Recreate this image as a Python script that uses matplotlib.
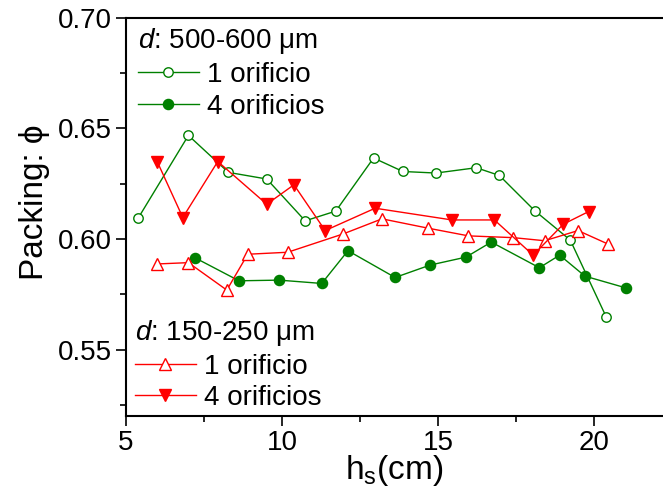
import matplotlib
matplotlib.use("Agg")
import matplotlib.pyplot as plt
from matplotlib.ticker import MultipleLocator

plt.rcParams['font.family'] = ['Liberation Sans', 'DejaVu Sans']
plt.rcParams['mathtext.fontset'] = 'custom'
plt.rcParams['mathtext.rm'] = 'Liberation Sans'
plt.rcParams['mathtext.it'] = 'Liberation Sans:italic'
plt.rcParams['mathtext.default'] = 'regular'

# d: 500-600 um, 1 orifice
h_big_1 = [5.39, 7.00, 8.28, 9.51, 10.74, 11.72, 12.93, 13.87, 14.93, 16.22, 16.96, 18.09, 19.23, 20.38]
phi_big_1 = [0.6094, 0.6468, 0.6301, 0.6271, 0.6082, 0.6126, 0.6366, 0.6305, 0.6298, 0.6322, 0.6287, 0.6128, 0.5995, 0.5648]

# d: 500-600 um, 4 orifices
h_big_4 = [7.21, 8.62, 9.91, 11.27, 12.11, 13.62, 14.74, 15.89, 16.70, 18.24, 18.89, 19.70, 21.01]
phi_big_4 = [0.5915, 0.5811, 0.5814, 0.5799, 0.5947, 0.5826, 0.5882, 0.5918, 0.5986, 0.5870, 0.5927, 0.5832, 0.5779]

# d: 150-250 um, 1 orifice
h_small_1 = [5.98, 7.00, 8.23, 8.90, 10.18, 11.96, 13.20, 14.67, 15.97, 17.41, 18.41, 19.48, 20.44]
phi_small_1 = [0.5887, 0.5893, 0.5769, 0.5931, 0.5940, 0.6023, 0.6091, 0.6049, 0.6014, 0.6006, 0.5992, 0.6038, 0.5977]

# d: 150-250 um, 4 orifices
h_small_4 = [6.00, 6.82, 7.94, 9.51, 10.38, 11.38, 12.98, 15.44, 16.80, 18.04, 19.01, 19.82]
phi_small_4 = [0.6350, 0.6097, 0.6350, 0.6157, 0.6245, 0.6038, 0.6139, 0.6086, 0.6086, 0.5927, 0.6067, 0.6124]

GREEN = '#008000'
RED = '#ff0000'

fig = plt.figure(figsize=(6.63, 4.92), dpi=100)
ax = fig.add_axes([0.190, 0.1545, 0.81, 0.8095])

lg1, = ax.plot(h_big_1, phi_big_1, '-o', color=GREEN, lw=1, ms=6.8,
               mfc='white', mec=GREEN, mew=1, label='1 orificio')
lg4, = ax.plot(h_big_4, phi_big_4, '-o', color=GREEN, lw=1, ms=7.3,
               mfc=GREEN, mec=GREEN, label='4 orificios')
lr1, = ax.plot(h_small_1, phi_small_1, '-^', color=RED, lw=1, ms=8.0,
               mfc='white', mec=RED, mew=1, label='1 orificio')
lr4, = ax.plot(h_small_4, phi_small_4, '-v', color=RED, lw=1, ms=8.5,
               mfc=RED, mec=RED, label='4 orificios')

ax.set_xlim(5, 22.2)
ax.set_ylim(0.52, 0.70)
ax.xaxis.set_major_locator(MultipleLocator(5))
ax.xaxis.set_minor_locator(MultipleLocator(2.5))
ax.yaxis.set_major_locator(MultipleLocator(0.05))
ax.yaxis.set_minor_locator(MultipleLocator(0.025))
ax.yaxis.set_major_formatter(plt.FormatStrFormatter('%.2f'))

for s in ['left', 'bottom', 'top']:
    ax.spines[s].set_linewidth(1.5)
ax.spines['right'].set_visible(False)

ax.tick_params(axis='both', which='major', direction='out', length=7, width=1.2,
               labelsize=20, pad=3, top=False, right=False)
ax.tick_params(axis='both', which='minor', direction='out', length=4, width=1.2,
               top=False, right=False)

ax.set_xlabel(r'h$_{s}$(cm)', fontsize=24, labelpad=-2)
ax.set_ylabel('Packing: \u03d5', fontsize=24, labelpad=6, y=0.537)

leg_kw = dict(frameon=False, fontsize=20, title_fontsize=20, handlelength=2.2,
              handletextpad=0.3, labelspacing=0.2, borderpad=0, borderaxespad=0,
              alignment='left')
leg1 = ax.legend(handles=[lg1, lg4], loc='upper left',
                 bbox_to_anchor=(0.022, 0.978),
                 title=r'$\it{d}$: 500-600 $\mu$m', **leg_kw)
ax.add_artist(leg1)
leg2 = ax.legend(handles=[lr1, lr4], loc='lower left',
                 bbox_to_anchor=(0.016, 0.012),
                 title=r'$\it{d}$: 150-250 $\mu$m', **leg_kw)

fig.savefig('out.png', dpi=100)
